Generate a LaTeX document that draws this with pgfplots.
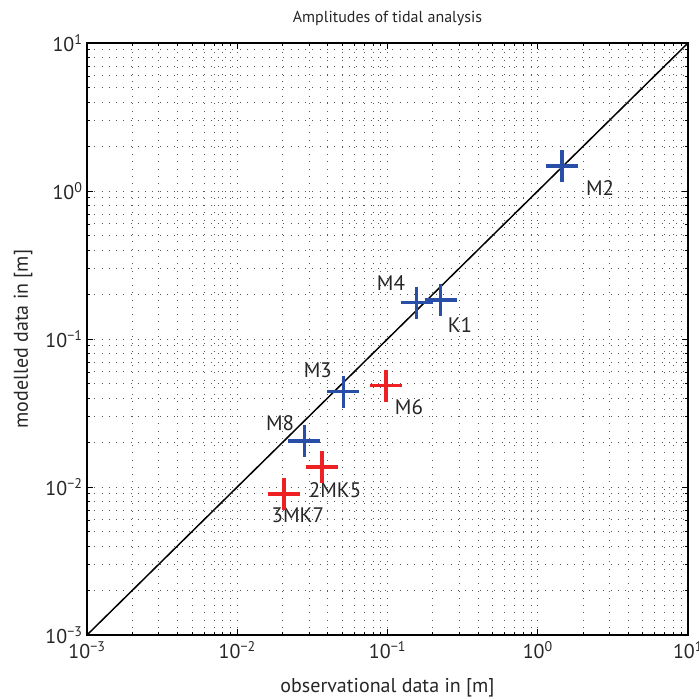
\documentclass[border=0pt]{standalone}
\usepackage{fontspec}
\setmainfont{PT Sans}
\usepackage{pgfplots}
\pgfplotsset{compat=1.18}

\definecolor{tideblue}{RGB}{40,78,168}
\definecolor{tidered}{RGB}{237,32,36}

\begin{document}
\begin{tikzpicture}
\begin{axis}[
  scale only axis,
  width=601bp, height=592bp,
  xmode=log, ymode=log,
  xmin=1e-3, xmax=10, ymin=1e-3, ymax=10,
  xtick={0.001,0.01,0.1,1,10},
  ytick={0.001,0.01,0.1,1,10},
  xticklabels={10\textsuperscript{−3},10\textsuperscript{−2},10\textsuperscript{−1},10\textsuperscript{0},10\textsuperscript{1}},
  yticklabels={10\textsuperscript{−3},10\textsuperscript{−2},10\textsuperscript{−1},10\textsuperscript{0},10\textsuperscript{1}},
  tick label style={font=\fontsize{20bp}{22bp}\selectfont, text=black!85},
  xticklabel style={yshift=-3bp},
  yticklabel style={xshift=-1bp},
  label style={font=\fontsize{20bp}{22bp}\selectfont, text=black!85},
  title style={font=\fontsize{16bp}{18bp}\selectfont, text=black!85,
    at={(axis description cs:0.5,1)}, anchor=base, yshift=15bp},
  title={Amplitudes of tidal analysis},
  xlabel={observational data in [m]},
  ylabel={modelled data in [m]},
  xlabel style={at={(axis description cs:0.5,0)}, anchor=base, yshift=-57bp},
  ylabel style={at={(axis description cs:-0.0985,0.5)}, anchor=base},
  grid=both,
  major grid style={black!65, line width=0.7pt, dash pattern=on 0.8pt off 6.5pt},
  minor grid style={black!65, line width=0.7pt, dash pattern=on 0.8pt off 6.5pt},
  axis line style={line width=1.4pt},
  major tick length=6bp, minor tick length=3bp,
  every tick/.style={black, line width=0.6pt},
  clip=false,
]
% one-to-one reference line
\addplot[black, line width=1.5pt] coordinates {(0.001,0.001) (10,10)};

% constituents reproduced well
\addplot[only marks, mark=+, mark size=16bp, tideblue, line width=3.6pt] coordinates {
  (1.45,1.47) (0.156,0.176) (0.226,0.184) (0.0508,0.0441) (0.0280,0.0205)
};
% constituents under-estimated by the model
\addplot[only marks, mark=+, mark size=16bp, tidered, line width=3.6pt] coordinates {
  (0.0973,0.0484) (0.0368,0.0136) (0.0205,0.00898)
};

\begin{scope}[every node/.style={font=\fontsize{21bp}{23bp}\selectfont, text=black!85}]
\node at (axis cs:2.60,1.05) {M2};
\node at (axis cs:0.1054,0.239) {M4};
\node at (axis cs:0.304,0.1245) {K1};
\node at (axis cs:0.0344,0.0618) {M3};
\node at (axis cs:0.139,0.0348) {M6};
\node at (axis cs:0.0193,0.0270) {M8};
\node at (axis cs:0.0448,0.00955) {2MK5};
\node at (axis cs:0.0253,0.00648) {3MK7};
\end{scope}
\end{axis}
\pgfresetboundingbox
\path[use as bounding box] (-87bp,-65bp) rectangle (612bp,635bp);
\end{tikzpicture}
\end{document}
